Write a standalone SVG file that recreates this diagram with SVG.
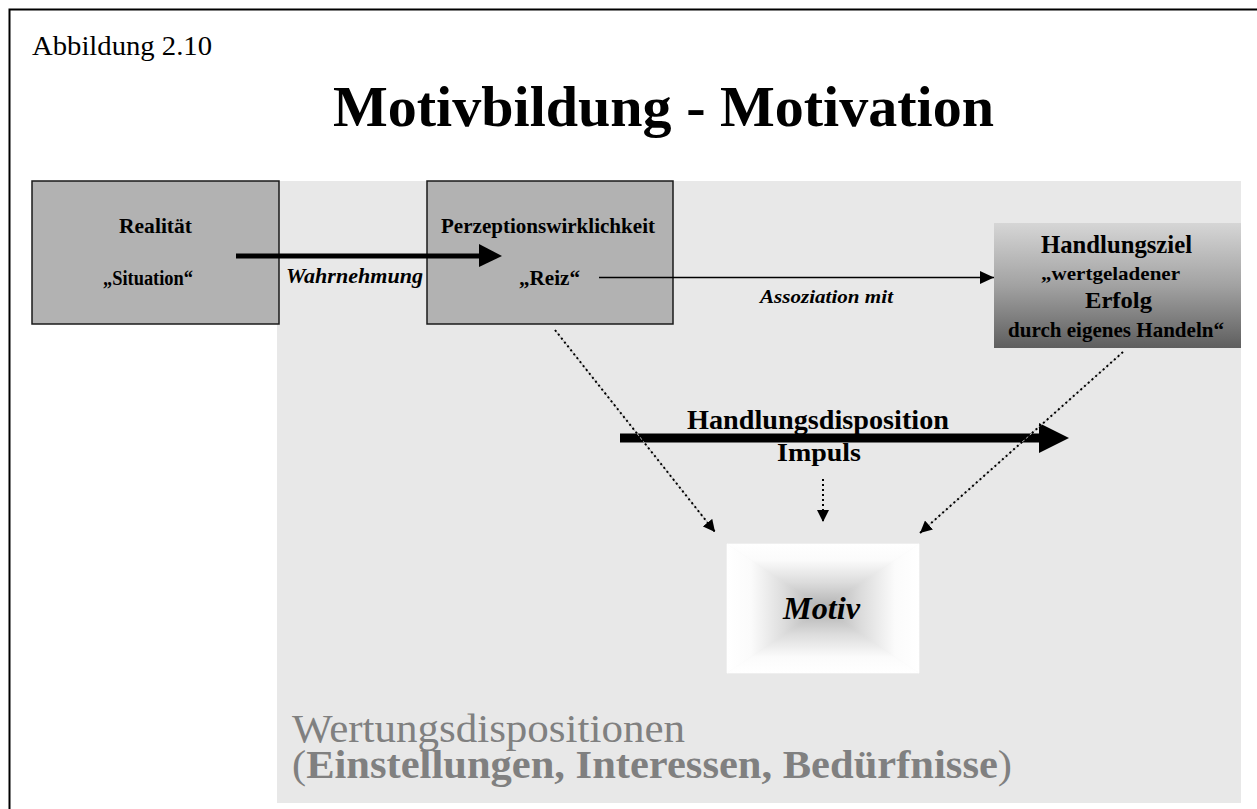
<svg xmlns="http://www.w3.org/2000/svg" width="1257" height="809" viewBox="0 0 1257 809">
  <style>
    text { font-family: "Liberation Serif", "Times New Roman", serif; fill: #000; }
    .b { font-weight: bold; }
    .bi { font-weight: bold; font-style: italic; }
    .box { fill: #b2b2b2; stroke: #1a1a1a; stroke-width: 1.5; }
    .dot-under { stroke: #b4b4b4; stroke-width: 1; fill: none; }
    .dot { stroke: #000; stroke-width: 2; stroke-dasharray: 2 3; fill: none; }
    .thick { stroke: #000; fill: none; }
    .gray { fill: #808080; }
  </style>
  <defs>
    <linearGradient id="goalFill" x1="0" y1="0" x2="0" y2="1">
      <stop offset="0" stop-color="#d6d6d6"/>
      <stop offset="0.5" stop-color="#a2a2a2"/>
      <stop offset="1" stop-color="#5e5e5e"/>
    </linearGradient>
    <!-- rectangular (path) gradient of the Motiv box, built from four triangles -->
    <linearGradient id="mTop" gradientUnits="userSpaceOnUse" x1="0" y1="544" x2="0" y2="608.4">
      <stop offset="0" stop-color="#ffffff"/>
      <stop offset="0.25" stop-color="#fbfbfb"/>
      <stop offset="0.6" stop-color="#dcdcdc"/>
      <stop offset="1" stop-color="#b0b0b0"/>
    </linearGradient>
    <linearGradient id="mBot" gradientUnits="userSpaceOnUse" x1="0" y1="673" x2="0" y2="608.4">
      <stop offset="0" stop-color="#ffffff"/>
      <stop offset="0.25" stop-color="#fbfbfb"/>
      <stop offset="0.6" stop-color="#dcdcdc"/>
      <stop offset="1" stop-color="#b0b0b0"/>
    </linearGradient>
    <linearGradient id="mLeft" gradientUnits="userSpaceOnUse" x1="727" y1="0" x2="823" y2="0">
      <stop offset="0" stop-color="#ffffff"/>
      <stop offset="0.25" stop-color="#fbfbfb"/>
      <stop offset="0.6" stop-color="#dcdcdc"/>
      <stop offset="1" stop-color="#b0b0b0"/>
    </linearGradient>
    <linearGradient id="mRight" gradientUnits="userSpaceOnUse" x1="919" y1="0" x2="823" y2="0">
      <stop offset="0" stop-color="#ffffff"/>
      <stop offset="0.25" stop-color="#fbfbfb"/>
      <stop offset="0.6" stop-color="#dcdcdc"/>
      <stop offset="1" stop-color="#b0b0b0"/>
    </linearGradient>
    <marker id="headSmall" markerUnits="userSpaceOnUse" viewBox="0 0 12 12" refX="12" refY="6" markerWidth="12" markerHeight="12" orient="auto">
      <path d="M0,0 L12,6 L0,12 Z" fill="#000"/>
    </marker>
    <marker id="headThin" markerUnits="userSpaceOnUse" viewBox="0 0 14 13" refX="14" refY="6.5" markerWidth="14" markerHeight="13" orient="auto">
      <path d="M0,0 L14,6.5 L0,13 Z" fill="#000"/>
    </marker>
  </defs>

  <!-- page -->
  <rect x="0" y="0" width="1257" height="809" fill="#fff"/>
  <rect x="9.5" y="9.5" width="1260" height="820" fill="none" stroke="#000" stroke-width="2"/>

  <text x="32" y="55" font-size="28" textLength="180" lengthAdjust="spacingAndGlyphs">Abbildung 2.10</text>
  <text class="b" x="333" y="126" font-size="58" textLength="661" lengthAdjust="spacingAndGlyphs">Motivbildung - Motivation</text>

  <!-- background panel: value dispositions -->
  <g id="wertungsdispositionen">
    <rect x="277" y="181" width="964" height="622" fill="#e8e8e8"/>
    <text class="gray" x="292" y="742" font-size="41" textLength="393" lengthAdjust="spacingAndGlyphs">Wertungsdispositionen</text>
    <text class="gray" x="292" y="778" font-size="41" textLength="720" lengthAdjust="spacingAndGlyphs"><tspan>(</tspan><tspan font-weight="bold">Einstellungen, Interessen, Bedürfnisse</tspan><tspan>)</tspan></text>
  </g>

  <g id="realitaet">
    <rect class="box" x="32" y="181" width="247" height="143"/>
    <text class="b" x="119" y="233" font-size="20" textLength="73" lengthAdjust="spacingAndGlyphs">Realität</text>
    <text class="b" x="103" y="285" font-size="20" textLength="90" lengthAdjust="spacingAndGlyphs">„Situation“</text>
  </g>

  <g id="perzeption">
    <rect class="box" x="427" y="181" width="246" height="143"/>
    <text class="b" x="441" y="233" font-size="20" textLength="214" lengthAdjust="spacingAndGlyphs">Perzeptionswirklichkeit</text>
    <text class="b" x="519" y="285" font-size="20" textLength="61" lengthAdjust="spacingAndGlyphs">„Reiz“</text>
  </g>

  <g id="handlungsziel">
    <rect x="994" y="223" width="247" height="125" fill="url(#goalFill)"/>
    <text class="b" x="1041" y="253" font-size="25" textLength="151" lengthAdjust="spacingAndGlyphs">Handlungsziel</text>
    <text class="b" x="1041" y="280" font-size="19" textLength="139" lengthAdjust="spacingAndGlyphs">„wertgeladener</text>
    <text class="b" x="1085" y="308" font-size="24" textLength="67" lengthAdjust="spacingAndGlyphs">Erfolg</text>
    <text class="b" x="1008" y="337" font-size="21" textLength="216" lengthAdjust="spacingAndGlyphs">durch eigenes Handeln“</text>
  </g>

  <g id="motiv">
    <polygon points="727,544 919,544 823,608.4" fill="url(#mTop)" stroke="url(#mTop)" stroke-width="0.6"/>
    <polygon points="727,673 919,673 823,608.4" fill="url(#mBot)" stroke="url(#mBot)" stroke-width="0.6"/>
    <polygon points="727,544 727,673 823,608.4" fill="url(#mLeft)" stroke="url(#mLeft)" stroke-width="0.6"/>
    <polygon points="919,544 919,673 823,608.4" fill="url(#mRight)" stroke="url(#mRight)" stroke-width="0.6"/>
    <text class="bi" x="783" y="619" font-size="31" textLength="77" lengthAdjust="spacingAndGlyphs">Motiv</text>
  </g>

  <g id="connectors">
    <!-- Wahrnehmung -->
    <line class="thick" x1="236" y1="256" x2="481" y2="256" stroke-width="5"/>
    <polygon points="479,244 502,256 479,267" fill="#000"/>
    <text class="bi" x="286" y="283" font-size="20" textLength="137" lengthAdjust="spacingAndGlyphs">Wahrnehmung</text>

    <!-- Assoziation mit -->
    <line x1="599" y1="277.5" x2="994" y2="277.5" stroke="#000" stroke-width="1.5" marker-end="url(#headThin)"/>
    <text class="bi" x="760" y="303" font-size="19" textLength="133" lengthAdjust="spacingAndGlyphs">Assoziation mit</text>

    <!-- Handlungsdisposition / Impuls -->
    <line class="thick" x1="620" y1="438" x2="1041" y2="438" stroke-width="9"/>
    <polygon points="1039,423 1069,438 1039,453" fill="#000"/>
    <text class="b" x="687" y="429" font-size="27" textLength="262" lengthAdjust="spacingAndGlyphs">Handlungsdisposition</text>
    <text class="b" x="777" y="461" font-size="26" textLength="84" lengthAdjust="spacingAndGlyphs">Impuls</text>

    <!-- dotted arrows into Motiv -->
    <line class="dot-under" x1="555" y1="330" x2="708" y2="523"/>
    <line class="dot" x1="555" y1="330" x2="715" y2="532" marker-end="url(#headSmall)"/>
    <line class="dot" x1="823" y1="479" x2="823" y2="522" marker-end="url(#headSmall)"/>
    <line class="dot-under" x1="1123" y1="352" x2="928" y2="526"/>
    <line class="dot" x1="1123" y1="352" x2="920" y2="533" marker-end="url(#headSmall)"/>
  </g>
</svg>
